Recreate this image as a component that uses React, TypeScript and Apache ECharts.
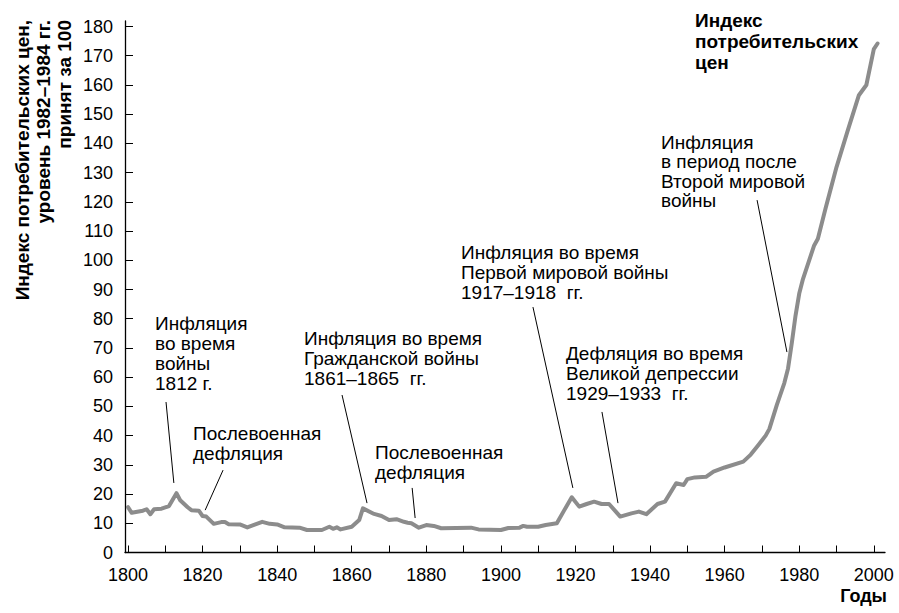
import React, { useEffect, useRef } from "react";
import * as echarts from "echarts";

const years = [1800,1801,1804,1805,1806,1807,1809,1811,1813,1814,1816,1817,1819,1820,1821,1823,1825,1826,1827,1830,1832,1836,1838,1840,1842,1846,1848,1852,1854,1855,1856,1857,1860,1862,1863,1866,1868,1870,1872,1874,1875,1876,1878,1880,1882,1884,1892,1894,1900,1902,1905,1906,1907,1910,1912,1915,1917,1919,1921,1923,1925,1927,1929,1932,1935,1937,1939,1942,1944,1947,1949,1950,1952,1955,1957,1960,1965,1967,1969,1971,1972,1974,1976,1977,1978,1979,1980,1981,1984,1985,1987,1990,1993,1996,1998,2000,2001];
const cpi = [15.5,13.6,14.3,14.8,13.1,14.8,15.0,15.9,20.3,17.9,15.5,14.5,14.3,12.5,12.3,9.8,10.4,10.4,9.7,9.6,8.6,10.5,9.8,9.6,8.6,8.5,7.7,7.7,8.8,8.1,8.6,7.9,8.8,11.1,15.1,13.2,12.5,11.1,11.4,10.5,10.2,10.0,8.5,9.4,9.1,8.3,8.5,7.9,7.7,8.4,8.5,9.1,8.8,8.8,9.4,10.0,14.5,18.9,15.7,16.6,17.4,16.6,16.6,12.3,13.4,14.0,13.1,16.6,17.4,23.7,23.1,25.1,25.7,25.9,27.7,29.1,31.1,33.5,36.7,40.0,42.3,50.5,58.0,63.0,71.6,81.0,88.6,93.6,105.1,107.4,117.5,131.9,144.4,156.5,160.0,172.3,174.2];

// leader lines: [yearFrom, valueFrom, yearTo, valueTo]
const leaders = [
  [1810.2, 51.5, 1812.3, 23.8],
  [1825.5, 28.2, 1820.7, 14.5],
  [1857.4, 53.9, 1864.1, 16.9],
  [1876.2, 22.1, 1877.0, 11.8],
  [1908.6, 84.0, 1919.3, 22.1],
  [1927.1, 48.1, 1931.4, 16.9],
  [1968.7, 120.6, 1976.7, 68.6],
];

const annotations = [
  "Инфляция\nво время\nвойны\n1812 г.",
  "Послевоенная\nдефляция",
  "Инфляция во время\nГражданской войны\n1861–1865\u00A0 гг.",
  "Послевоенная\nдефляция",
  "Инфляция во время\nПервой мировой войны\n1917–1918\u00A0 гг.",
  "Дефляция во время\nВеликой депрессии\n1929–1933\u00A0 гг.",
  "Инфляция\nв период после\nВторой мировой\nвойны",
];
const annotationPos = [
  [155, 313, 20],
  [193, 423, 20],
  [304, 328, 20],
  [375, 442, 20],
  [461, 242, 20],
  [566, 343, 20],
  [661, 133, 19.3],
];

const yTitle = "Индекс потребительских цен,\nуровень 1982–1984 гг.\nпринят за 100";
const seriesTitle = "Индекс\nпотребительских\nцен";
const xTitle = "Годы";

const FONT = "'Liberation Sans', Arial, Helvetica, sans-serif";

export default function App() {
  const ref = useRef<HTMLDivElement>(null);
  useEffect(() => {
    if (!ref.current) return;
    const chart = echarts.init(ref.current, undefined, { renderer: "svg" });
    const data = years.map((y, i) => [y, cpi[i]]);
    const hidden = {
      axisLine: { show: false },
      axisTick: { show: false },
      axisLabel: { show: false },
      splitLine: { show: false },
    };
    const option: any = {
      animation: false,
      backgroundColor: "#fff",
      grid: [
        { left: 125, right: 14, top: 21, bottom: 60.5 },
        { left: 128, right: 25.2, top: 26.5, bottom: 60.5 },
        { left: 125, right: 14, top: 26.5, bottom: 60.5 },
      ],
      xAxis: [
        {
          gridIndex: 0, type: "value", min: 1799.2, max: 2003,
          axisLine: { show: true, onZero: false, lineStyle: { color: "#000", width: 1.3 } },
          axisTick: { show: false }, axisLabel: { show: false }, splitLine: { show: false },
        },
        {
          gridIndex: 1, type: "value", min: 1800, max: 2000, interval: 10,
          axisLine: { show: false },
          axisTick: { show: true, inside: true, length: 7, lineStyle: { color: "#000", width: 1 } },
          axisLabel: {
            formatter: (v: number) => (v % 20 === 0 ? String(v) : ""),
            margin: 13, fontSize: 18, color: "#000", fontFamily: FONT,
          },
          splitLine: { show: false },
        },
        { gridIndex: 2, type: "value", min: 0, max: 1, show: false, ...hidden },
      ],
      yAxis: [
        {
          gridIndex: 0, type: "value", min: 0, max: 181.9,
          axisLine: { show: true, onZero: false, lineStyle: { color: "#000", width: 1.3 } },
          axisTick: { show: false }, axisLabel: { show: false }, splitLine: { show: false },
        },
        { gridIndex: 1, type: "value", min: 0, max: 180, show: false, ...hidden },
        {
          gridIndex: 2, type: "value", min: 0, max: 180, interval: 10,
          axisLine: { show: false },
          axisTick: { show: true, inside: true, length: 8, lineStyle: { color: "#000", width: 1 } },
          axisLabel: { margin: 12, fontSize: 18, color: "#000", fontFamily: FONT },
          splitLine: { show: false },
        },
      ],
      series: [
        {
          type: "line",
          xAxisIndex: 0,
          yAxisIndex: 0,
          data,
          showSymbol: false,
          symbol: "none",
          lineStyle: { color: "#8c8c8c", width: 4, join: "round", cap: "round" },
          silent: true,
          markLine: {
            silent: true,
            symbol: ["none", "none"],
            label: { show: false },
            lineStyle: { color: "#000", width: 1, type: "solid" },
            data: leaders.map((l) => [
              { coord: [l[0], l[1]] },
              { coord: [l[2], l[3]] },
            ]),
          },
        },
      ],
      graphic: [
        ...annotations.map((t, i) => ({
          type: "text",
          x: annotationPos[i][0],
          y: annotationPos[i][1],
          silent: true,
          style: {
            text: t,
            fill: "#000",
            font: `19px ${FONT}`,
            lineHeight: annotationPos[i][2],
            align: "left",
            verticalAlign: "top",
          },
        })),
        {
          type: "text",
          x: 695,
          y: 10,
          silent: true,
          style: {
            text: seriesTitle,
            fill: "#000",
            font: `bold 19px ${FONT}`,
            lineHeight: 21,
            align: "left",
            verticalAlign: "top",
          },
        },
        {
          type: "text",
          x: 887,
          y: 596,
          silent: true,
          style: {
            text: xTitle,
            fill: "#000",
            font: `bold 18px ${FONT}`,
            align: "right",
            verticalAlign: "middle",
          },
        },
        {
          type: "text",
          x: 12,
          y: 20,
          rotation: Math.PI / 2,
          silent: true,
          style: {
            text: yTitle,
            fill: "#000",
            font: `bold 19px ${FONT}`,
            lineHeight: 21,
            align: "right",
            verticalAlign: "top",
          },
        },
      ],
    };
    chart.setOption(option);
    return () => chart.dispose();
  }, []);
  return (
    <div
      ref={ref}
      style={{ position: "fixed", left: 0, top: 0, width: 899, height: 613 }}
    />
  );
}
